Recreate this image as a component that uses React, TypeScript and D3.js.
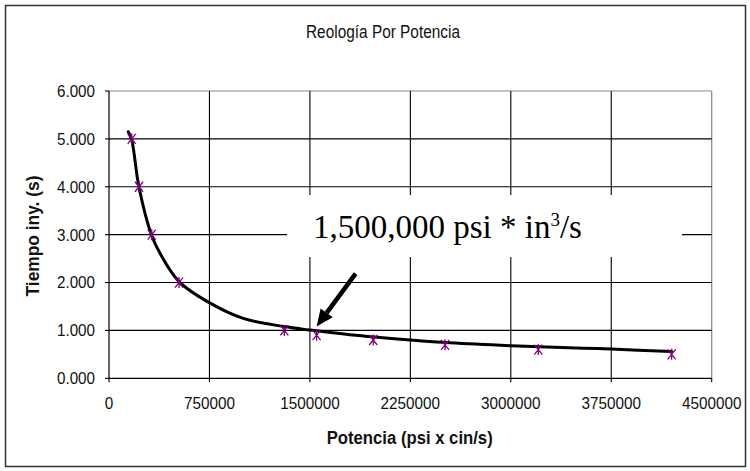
import React from "react";
import * as d3 from "d3";

const title = "Reología Por Potencia";
const xTitle = "Potencia (psi x cin/s)";
const yTitle = "Tiempo iny. (s)";

const xTicks = [0, 750000, 1500000, 2250000, 3000000, 3750000, 4500000];
const yTicks = [0, 1, 2, 3, 4, 5, 6];

// measured points
const potencia = [169500, 224000, 318800, 522600, 1309000, 1550000, 1973000, 2509000, 3205000, 4201000];
const tiempo = [5.0, 4.0, 3.0, 2.0, 1.0, 0.9, 0.8, 0.7, 0.6, 0.5];

// trend line
const trendX = [144000, 169500, 224000, 318800, 380800, 522600, 748900, 1002700, 1308800, 1495500, 1799400, 2249600, 2546000, 3001500, 3541000, 3748000, 4201000];
const trendY = [5.15, 4.98, 3.99, 2.98, 2.61, 2.02, 1.58, 1.25, 1.08, 1.01, 0.91, 0.80, 0.74, 0.68, 0.63, 0.61, 0.56];

const W = 750;
const H = 471;
const L = 109, R = 711.7, T = 91, B = 378.3;

export default function App() {
  const x = d3.scaleLinear().domain([0, 4500000]).range([L, R]);
  const y = d3.scaleLinear().domain([0, 6]).range([B, T]);
  const fmtY = (v: number) => d3.format(".3f")(v);

  const trend = trendX.map((v, i) => [v, trendY[i]] as [number, number]);
  const line = d3
    .line<[number, number]>()
    .x((d) => x(d[0]))
    .y((d) => y(d[1]))
    .curve(d3.curveCatmullRom);

  const font = "'Liberation Sans', Arial, sans-serif";
  const starPath = "M-4,-5L4,5M-4,5L4,-5M0,-5.5L0,5.5";

  // arrow geometry (annotation)
  const tipX = x(1550000);
  const tipY = y(1.08);
  const tailX = tipX + 39;
  const tailY = tipY - 53;
  const ang = Math.atan2(tipY - tailY, tipX - tailX);
  const headLen = 17;
  const headW = 7.5;
  const bx = tipX - headLen * Math.cos(ang);
  const by = tipY - headLen * Math.sin(ang);
  const px = -Math.sin(ang), py = Math.cos(ang);

  return (
    <svg
      width={W}
      height={H}
      style={{ position: "absolute", left: 0, top: 0, background: "#fff" }}
    >
      <rect x={0} y={0} width={W} height={H} fill="#fff" />
      <rect x={5.5} y={5.5} width={740} height={461} fill="none" stroke="#333" strokeWidth={1.5} />

      <text x={383} y={38} textAnchor="middle" fontFamily={font} fontSize={17.5} textLength={154} lengthAdjust="spacingAndGlyphs" fill="#111">
        {title}
      </text>

      {/* plot frame top/right */}
      <line x1={L} x2={R} y1={T} y2={T} stroke="#888" strokeWidth={1.2} />
      <line x1={R} x2={R} y1={T} y2={B} stroke="#888" strokeWidth={1.2} />

      {/* horizontal gridlines */}
      {yTicks.filter((v) => v > 0 && v < 6).map((v) => (
        <line key={"h" + v} x1={L} x2={R} y1={y(v)} y2={y(v)} stroke="#000" strokeWidth={1.1} />
      ))}
      {/* vertical gridlines */}
      {xTicks.filter((v) => v > 0 && v < 4500000).map((v) => (
        <line key={"v" + v} x1={x(v)} x2={x(v)} y1={T} y2={B} stroke="#000" strokeWidth={1.1} />
      ))}

      {/* axes */}
      <line x1={L} x2={L} y1={T} y2={B} stroke="#000" strokeWidth={1.2} />
      <line x1={L} x2={R} y1={B} y2={B} stroke="#000" strokeWidth={1.2} />
      {yTicks.map((v) => (
        <g key={"yt" + v}>
          <line x1={L - 4} x2={L} y1={y(v)} y2={y(v)} stroke="#000" strokeWidth={1.1} />
          <text x={95} y={y(v)} dy="0.36em" textAnchor="end" fontFamily={font} fontSize={16.5} textLength={38} lengthAdjust="spacingAndGlyphs" fill="#111">
            {fmtY(v)}
          </text>
        </g>
      ))}
      {xTicks.map((v) => {
        const s = String(v);
        return (
          <g key={"xt" + v}>
            <line x1={x(v)} x2={x(v)} y1={B} y2={B + 4} stroke="#000" strokeWidth={1.1} />
            <text x={x(v)} y={409} textAnchor="middle" fontFamily={font} fontSize={16.5} textLength={s.length * 8.5} lengthAdjust="spacingAndGlyphs" fill="#111">
              {s}
            </text>
          </g>
        );
      })}

      {/* axis titles */}
      <text x={409.7} y={444} textAnchor="middle" fontFamily={font} fontWeight="bold" fontSize={17.5} textLength={166} lengthAdjust="spacingAndGlyphs" fill="#111">
        {xTitle}
      </text>
      <text transform={`translate(38.5,236) rotate(-90)`} textAnchor="middle" fontFamily={font} fontWeight="bold" fontSize={17.5} textLength={121} lengthAdjust="spacingAndGlyphs" fill="#111">
        {yTitle}
      </text>

      {/* trend line */}
      <path d={line(trend) || ""} fill="none" stroke="#000" strokeWidth={3} strokeLinecap="round" />

      {/* markers */}
      {potencia.map((v, i) => (
        <path key={"m" + i} d={starPath} transform={`translate(${x(v)},${y(tiempo[i])})`} stroke="#800080" strokeWidth={1.3} fill="none" />
      ))}

      {/* annotation */}
      <rect x={287} y={195} width={395} height={62} fill="#fff" />
      <text x={313} y={238} fontFamily="'Liberation Serif', 'Times New Roman', serif" fontSize={33} fill="#000">
        1,500,000 psi * in
        <tspan fontSize={19} dy={-12}>3</tspan>
        <tspan dy={12}>/s</tspan>
      </text>

      <line x1={tailX} y1={tailY} x2={bx} y2={by} stroke="#000" strokeWidth={4.5} />
      <path
        d={`M${tipX},${tipY}L${bx + px * headW},${by + py * headW}L${bx - px * headW},${by - py * headW}Z`}
        fill="#000"
      />
    </svg>
  );
}
